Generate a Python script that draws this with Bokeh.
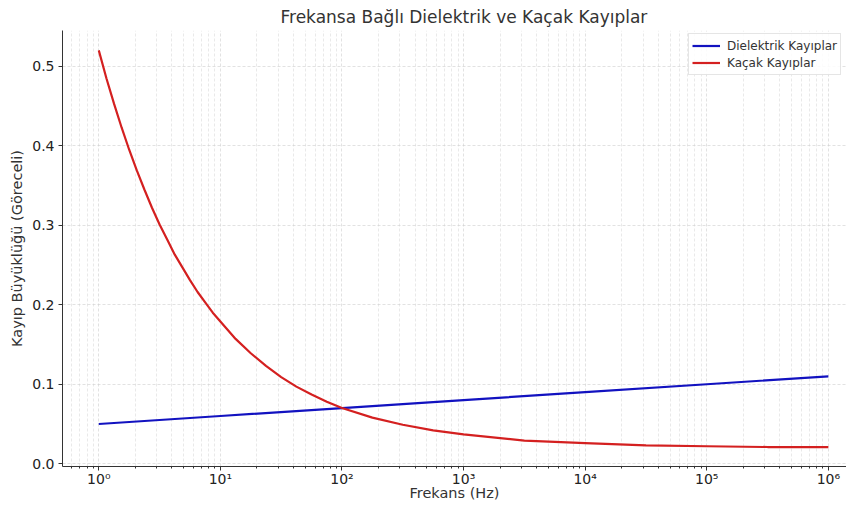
from bokeh.plotting import figure
from bokeh.models import FixedTicker, Range1d
from bokeh.embed import file_html
from bokeh.resources import INLINE

# --- data ---
freq_leak = [1, 1.155, 1.334, 1.540, 1.778, 2.054, 2.371, 2.738, 3.162, 3.652, 4.217, 4.870,
             5.623, 6.494, 7.499, 8.660, 10, 13.34, 17.78, 23.71, 31.62, 42.17, 56.23, 74.99,
             100, 177.8, 316.2, 562.3, 1000, 3162, 10000, 31623, 100000, 316228, 1000000]
leak_loss = [0.520, 0.485, 0.453, 0.423, 0.395, 0.369, 0.345, 0.322, 0.301, 0.282, 0.263, 0.247,
             0.231, 0.216, 0.203, 0.190, 0.179, 0.157, 0.139, 0.123, 0.109, 0.097, 0.087, 0.078,
             0.070, 0.058, 0.049, 0.042, 0.037, 0.029, 0.026, 0.023, 0.022, 0.021, 0.021]
freq_diel = [1, 10, 100, 1000, 10000, 100000, 1000000]
diel_loss = [0.05, 0.06, 0.07, 0.08, 0.09, 0.10, 0.11]

x_major_ticks = [1, 10, 100, 1000, 10000, 100000, 1000000]
x_major_labels = ["10⁰", "10¹", "10²", "10³", "10⁴", "10⁵", "10⁶"]
x_minor_ticks = [m * 10 ** k for k in range(-1, 7) for m in range(2, 10)]
y_ticks = [0.0, 0.1, 0.2, 0.3, 0.4, 0.5]
y_labels = ["0.0", "0.1", "0.2", "0.3", "0.4", "0.5"]

FONT = "DejaVu Sans"
TXT = "#333333"

p = figure(width=846, height=503, x_axis_type="log",
           x_range=Range1d(0.503, 1.41e6), y_range=Range1d(-0.0035, 0.545),
           output_backend="svg", toolbar_location=None,
           title="Frekansa Bağlı Dielektrik ve Kaçak Kayıplar")
p.min_border_left = 62
p.min_border_right = 0
p.min_border_top = 0
p.min_border_bottom = 0
p.outline_line_color = None
p.background_fill_color = "white"
p.border_fill_color = "white"

p.title.text_font = FONT
p.title.text_font_size = "17px"
p.title.text_font_style = "normal"
p.title.text_color = TXT
p.title.align = "left"
p.title.offset = 218
p.title.standoff = 8

p.line(freq_diel, diel_loss, line_color="#1212c0", line_width=2.2, legend_label="Dielektrik Kayıplar")
p.line(freq_leak, leak_loss, line_color="#d42020", line_width=2.2, legend_label="Kaçak Kayıplar")

xa = p.xaxis[0]
xa.ticker = FixedTicker(ticks=x_major_ticks, minor_ticks=x_minor_ticks)
xa.major_label_overrides = {t: l for t, l in zip(x_major_ticks, x_major_labels)}
xa.axis_label = "Frekans (Hz)"
ya = p.yaxis[0]
ya.ticker = FixedTicker(ticks=y_ticks)
ya.major_label_overrides = {t: l for t, l in zip(y_ticks, y_labels)}
ya.axis_label = "Kayıp Büyüklüğü (Göreceli)"

for ax in (xa, ya):
    ax.axis_label_text_font = FONT
    ax.axis_label_text_font_size = "14.5px"
    ax.axis_label_text_font_style = "normal"
    ax.axis_label_text_color = TXT
    ax.major_label_text_font = FONT
    ax.major_label_text_font_size = "14px"
    ax.major_label_text_color = "#222222"
    ax.axis_line_color = "#333333"
    ax.major_tick_line_color = "#333333"
    ax.minor_tick_line_color = "#333333"
    ax.major_tick_in = 0
    ax.major_tick_out = 4
    ax.minor_tick_in = 0
    ax.minor_tick_out = 2
xa.major_label_standoff = 0
xa.axis_label_standoff = -5
ya.major_label_standoff = 4
ya.axis_label_standoff = 4

for g in (p.xgrid[0], p.ygrid[0]):
    g.grid_line_color = "#cfcfcf"
    g.grid_line_width = 0.6
    g.grid_line_dash = "3 2"
p.xgrid[0].minor_grid_line_color = "#dadada"
p.xgrid[0].minor_grid_line_width = 0.6
p.xgrid[0].minor_grid_line_dash = "3 2"

lg = p.legend[0]
lg.location = (626, 391)
lg.margin = 0
lg.padding = 3
lg.spacing = 0
lg.label_text_font = FONT
lg.label_text_font_size = "12px"
lg.label_text_color = TXT
lg.label_height = 17
lg.glyph_height = 17
lg.glyph_width = 28
lg.label_standoff = 7
lg.border_line_color = "#cccccc"
lg.border_line_width = 1
lg.background_fill_alpha = 0.85

open("out.html", "w").write(file_html(p, INLINE))
